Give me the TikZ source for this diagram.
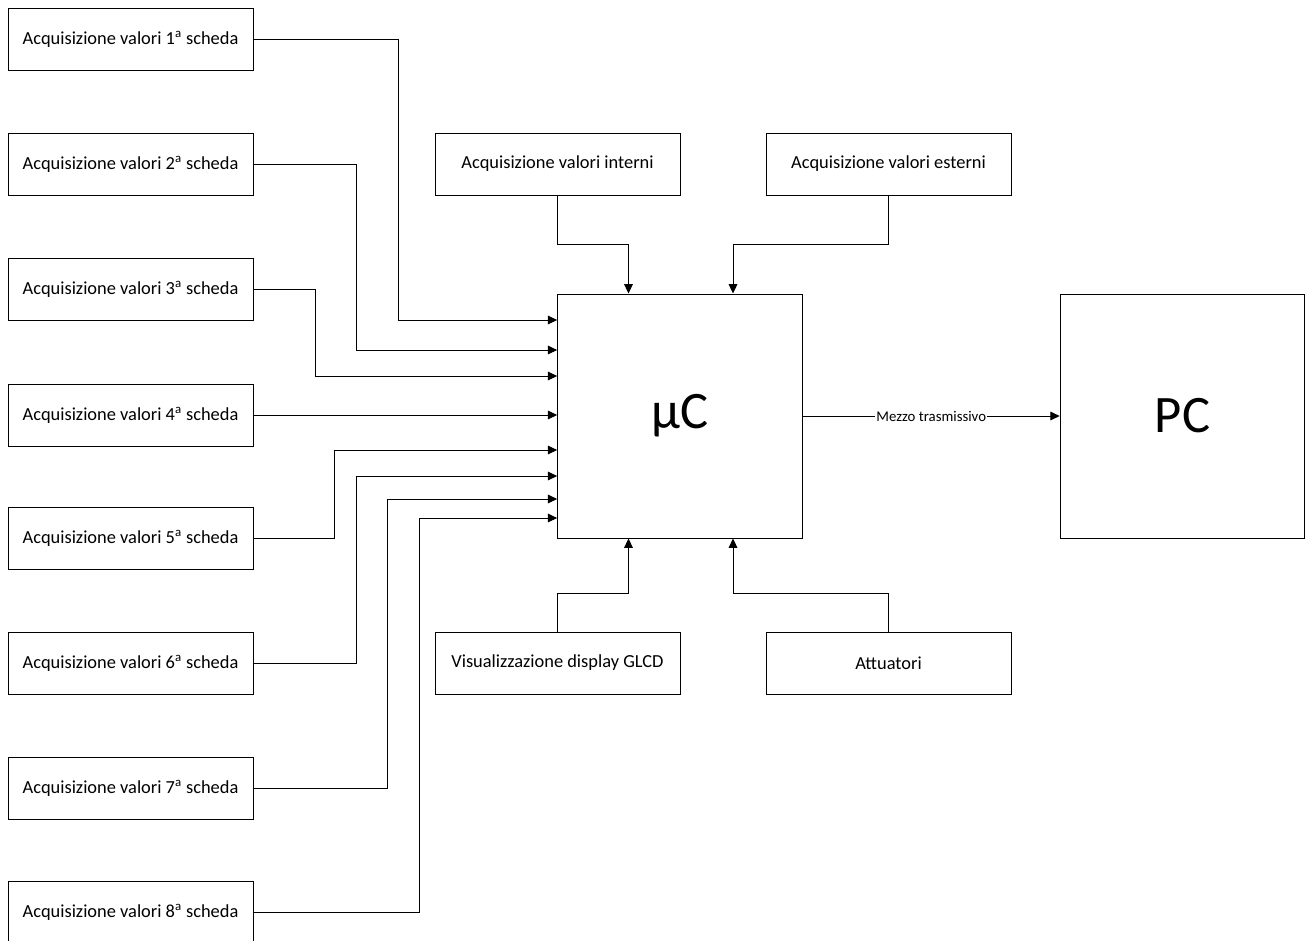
\documentclass[tikz,border=0pt]{standalone}
\usepackage{fontspec}
\setmainfont{Carlito}
\usetikzlibrary{arrows.meta,calc}

\begin{document}
\begin{tikzpicture}[x=0.75pt,y=-0.75pt,
  box/.style={draw=black,line width=0.75pt,fill=white,minimum width=183.75pt,minimum height=46.5pt,inner sep=0pt,
    font=\fontsize{13.8}{16}\selectfont},
  bigbox/.style={draw=black,line width=0.75pt,fill=white,minimum width=183.5pt,minimum height=183pt,inner sep=0pt,
    font=\fontsize{39.5}{44}\selectfont},
  conn/.style={line width=0.75pt,-{Triangle[length=7pt,width=6.5pt]}},
  medium/.style={fill=white,inner sep=0.8pt,font=\fontsize{11.1}{13}\selectfont}]

\useasboundingbox (0,0) rectangle (1313,940);
\fill[white] (0,0) rectangle (1313,940);
\clip (0,0) rectangle (1313,940);

% acquisition boards on the left
\node[box] (b1) at (130.5,39.5)  {Acquisizione valori 1\textsuperscript{a} scheda};
\node[box] (b2) at (130.5,164.2) {Acquisizione valori 2\textsuperscript{a} scheda};
\node[box] (b3) at (130.5,289)   {Acquisizione valori 3\textsuperscript{a} scheda};
\node[box] (b4) at (130.5,415)   {Acquisizione valori 4\textsuperscript{a} scheda};
\node[box] (b5) at (130.5,538)   {Acquisizione valori 5\textsuperscript{a} scheda};
\node[box] (b6) at (130.5,663)   {Acquisizione valori 6\textsuperscript{a} scheda};
\node[box] (b7) at (130.5,788)   {Acquisizione valori 7\textsuperscript{a} scheda};
\node[box] (b8) at (130.5,912.5) {Acquisizione valori 8\textsuperscript{a} scheda};

% microcontroller and PC
\node[bigbox] (mc) at (680,416)    {µC};
\node[bigbox] (pc) at (1182.5,416) {PC};

% blocks above and below the microcontroller
\node[box] (vi) at (557.5,164) {Acquisizione valori interni};
\node[box] (ve) at (888.5,164) {Acquisizione valori esterni};
\node[box] (gl) at (557.5,663) {Visualizzazione display GLCD};
\node[box] (at) at (888.5,663) {Attuatori};

% board connections into the left side of the microcontroller
\foreach \i/\dx/\dy in {1/-158.7/-96, 2/-200.7/-66, 3/-241.7/-40, 5/-222.7/34,
                        6/-200.7/60, 7/-169.7/83, 8/-137.7/102}
  \draw[conn] (b\i.east) -| ($(mc.west)+(\dx,\dy)$) -- ($(mc.west)+(0,\dy)$);
\draw[conn] (b4.east) -- (b4.east -| mc.west);

% inputs from above
\draw[conn] (vi.south) -- ++(0,49) -| ($(mc.north)+(-51.5,0)$);
\draw[conn] (ve.south) -- ++(0,49) -| ($(mc.north)+(53,0)$);

% inputs from below
\draw[conn] (gl.north) -- ++(0,-38) -| ($(mc.south)+(-51.5,0)$);
\draw[conn] (at.north) -- ++(0,-38) -| ($(mc.south)+(53,0)$);

% transmission link
\draw[conn] (mc.east) -- node[medium] {Mezzo trasmissivo} (pc.west);

\end{tikzpicture}
\end{document}
